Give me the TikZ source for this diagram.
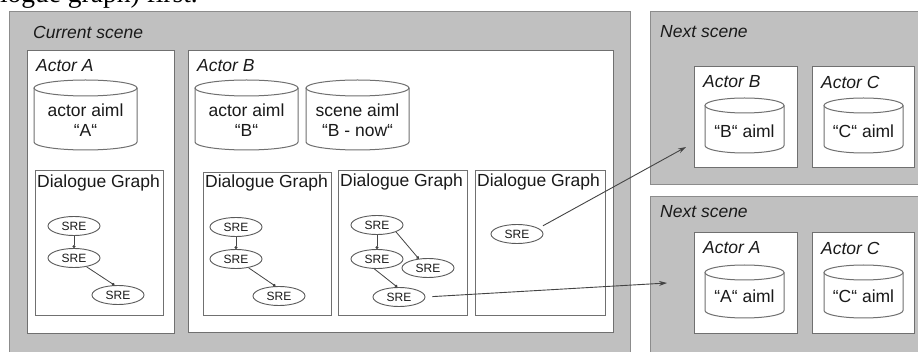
\documentclass[tikz,border=0pt]{standalone}
\usepackage{fontspec}
\setmainfont{Liberation Sans}
\newfontfamily\serifdoc{Liberation Serif}
\usetikzlibrary{shapes.geometric,arrows.meta}

\definecolor{scenegray}{HTML}{C0C0C0}
\definecolor{sceneedge}{HTML}{8C8C8C}
\definecolor{boxedge}{HTML}{707070}
\definecolor{sreedge}{HTML}{5A5A5A}
\definecolor{ink}{HTML}{1A1A1A}
\definecolor{wire}{HTML}{444444}

\newcommand\drumshape[5]{%
  \pgfmathsetmacro\drx{(#2-#1)/2}%
  \draw[cyl] ({#1},{#3+#5}) -- ({#1},{#4-#5})
     arc[start angle=180,end angle=360,x radius=\drx pt,y radius=#5pt]
     -- ({#2},{#3+#5});
  \draw[cyl] ({(#1+#2)/2},{#3+#5}) ellipse[x radius=\drx pt, y radius=#5pt];
}

\begin{document}
\begin{tikzpicture}[x=1pt,y=-1pt,
  scenebox/.style={draw=sceneedge, fill=scenegray, line width=1.2pt, rectangle, inner sep=0pt, anchor=north west},
  actorbox/.style={draw=boxedge, fill=white, line width=1pt, rectangle, inner sep=0pt, anchor=north west},
  dgbox/.style={draw=boxedge, fill=white, line width=0.9pt, rectangle, inner sep=0pt, anchor=north west},
  ttl/.style={font=\fontsize{17.5}{20}\selectfont\itshape, text=ink, anchor=west, inner sep=0pt},
  dgttl/.style={font=\fontsize{17.5}{20}\selectfont, text=ink, anchor=west, inner sep=0pt},
  sre/.style={ellipse, draw=sreedge, fill=white, line width=0.9pt, minimum width=52pt, minimum height=19pt, inner sep=0pt, font=\fontsize{12}{13}\selectfont, text=ink},
  dep/.style={draw=wire, line width=0.8pt, -{Circle[length=3pt]}},
  jump/.style={draw=wire, line width=0.9pt, -{Stealth[length=8pt,width=5pt]}},
  cyl/.style={draw=boxedge, fill=white, line width=1pt},
  cyltext/.style={font=\fontsize{17.5}{20}\selectfont, align=center, text=ink, inner sep=0pt}
]
\useasboundingbox (0,0) rectangle (918,352);
\clip (0,0) rectangle (918,352);
\fill[white] (0,0) rectangle (918,352);

% cut-off document line
\node[font=\serifdoc\fontsize{27.5}{30}\selectfont, anchor=base east, inner sep=0pt, text=black] (doctext) at (198,3) {logue graph) first.};

% scenes
\node[scenebox, minimum width=621pt, minimum height=360pt] (cur) at (9,11) {};
\node[scenebox, minimum width=290pt, minimum height=173pt] (nextone) at (650,11) {};
\node[scenebox, minimum width=290pt, minimum height=180pt] (nexttwo) at (650,196) {};
\node[ttl] (curlbl) at (33,32) {Current scene};
\node[ttl] (n1lbl) at (660,32) {Next scene};
\node[ttl] (n2lbl) at (660,212) {Next scene};

% actors, current scene
\node[actorbox, minimum width=147pt, minimum height=283pt] (actA) at (27,50) {};
\node[actorbox, minimum width=425pt, minimum height=282pt] (actB) at (188,50) {};
\node[ttl] (actAlbl) at (36,66) {Actor A};
\node[ttl] (actBlbl) at (197,66) {Actor B};

% actors, next scenes
\node[actorbox, minimum width=103pt, minimum height=101pt] (nB) at (694,66) {};
\node[actorbox, minimum width=102pt, minimum height=101pt] (nC) at (812,66) {};
\node[actorbox, minimum width=103pt, minimum height=101pt] (mA) at (694,232) {};
\node[actorbox, minimum width=102pt, minimum height=101pt] (mC) at (812,232) {};
\node[ttl] (nBlbl) at (703,82) {Actor B};
\node[ttl] (nClbl) at (821,82) {Actor C};
\node[ttl] (mAlbl) at (703,248) {Actor A};
\node[ttl] (mClbl) at (821,248) {Actor C};

% cylinders
\drumshape{34}{137}{80}{150}{8}
\node[cyltext] (cylA) at (85.5,120) {actor aiml\\“A“};
\drumshape{195}{298}{80}{150}{8}
\node[cyltext] (cylB) at (246.5,120) {actor aiml\\“B“};
\drumshape{306}{409}{80}{150}{8}
\node[cyltext] (cylBnow) at (357.5,120) {scene aiml\\“B - now“};
\drumshape{705}{784}{98}{153}{7.5}
\node[cyltext] (cylnB) at (744.5,131) {“B“ aiml};
\drumshape{824}{903}{98}{153}{7.5}
\node[cyltext] (cylnC) at (863.5,131) {“C“ aiml};
\drumshape{705}{784}{265}{318}{7.5}
\node[cyltext] (cylmA) at (744.5,296) {“A“ aiml};
\drumshape{824}{903}{265}{318}{7.5}
\node[cyltext] (cylmC) at (863.5,296) {“C“ aiml};

% dialogue graph boxes
\node[dgbox, minimum width=128pt, minimum height=145pt] (dgA) at (35,170) {};
\node[dgbox, minimum width=128pt, minimum height=143pt] (dgB1) at (203,172) {};
\node[dgbox, minimum width=129pt, minimum height=145pt] (dgB2) at (338,170) {};
\node[dgbox, minimum width=130pt, minimum height=145pt] (dgB3) at (475,170) {};
\node[dgttl] (dgAlbl) at (37,183) {Dialogue Graph};
\node[dgttl] (dgB1lbl) at (205,183) {Dialogue Graph};
\node[dgttl] (dgB2lbl) at (340,182) {Dialogue Graph};
\node[dgttl] (dgB3lbl) at (477,182) {Dialogue Graph};

% SRE nodes
\node[sre] (a1) at (74,226) {SRE};
\node[sre] (a2) at (74,258) {SRE};
\node[sre] (a3) at (118,295) {SRE};
\node[sre] (b1) at (236,227) {SRE};
\node[sre] (b2) at (236,259) {SRE};
\node[sre] (b3) at (279,296) {SRE};
\node[sre] (c1) at (377,225) {SRE};
\node[sre] (c2) at (377,259) {SRE};
\node[sre] (c3) at (428,268) {SRE};
\node[sre] (c4) at (399,297) {SRE};
\node[sre] (d1) at (517,234) {SRE};

% edges
\draw[dep] (a1) -- (a2);
\draw[dep] (a2.-35) -- (a3.110);
\draw[dep] (b1) -- (b2);
\draw[dep] (b2.-35) -- (b3.110);
\draw[dep] (c1) -- (c2);
\draw[dep] (c1.-20) -- (c3.135);
\draw[dep] (c2.-105) -- (c4.100);

% jumps to next scenes
\coordinate (tipTop) at (686,147);
\coordinate (tipBot) at (667,283);
\draw[jump, shorten <=5pt] (d1.15) -- (tipTop);
\draw[jump, shorten <=7pt] (c4.east) -- (tipBot);
\end{tikzpicture}
\end{document}
